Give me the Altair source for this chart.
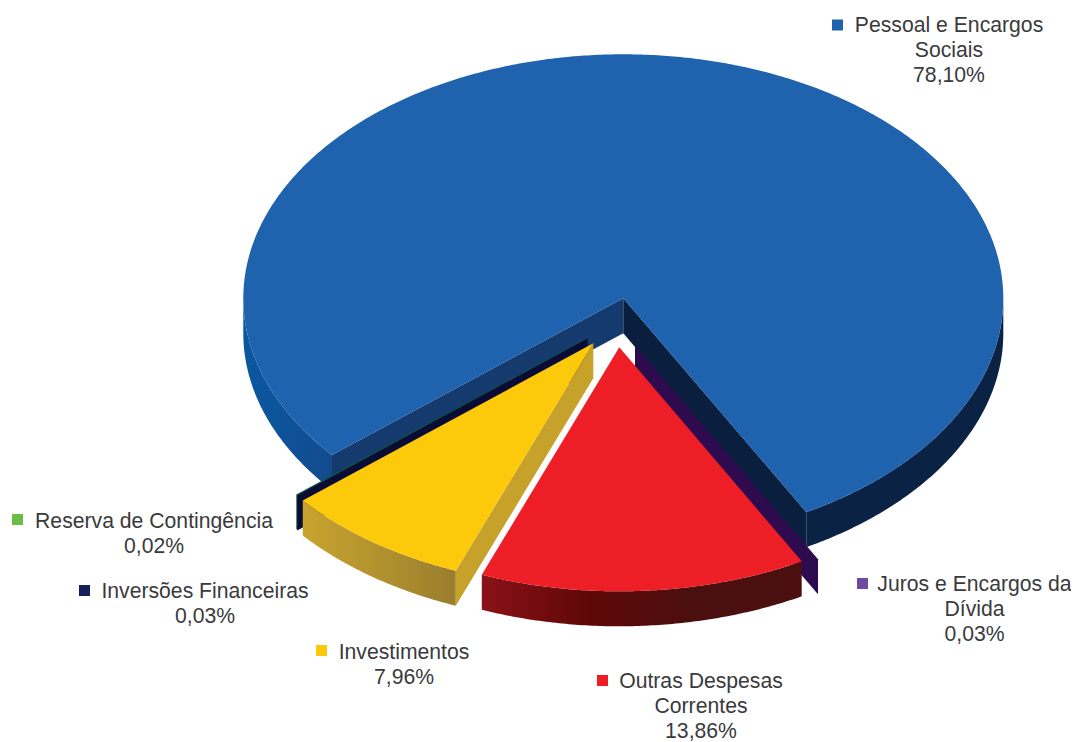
import math
import altair as alt
import pandas as pd

# ---- chart values ----
categories = ["Pessoal e Encargos Sociais", "Juros e Encargos da Dívida", "Outras Despesas Correntes",
              "Investimentos", "Inversões Financeiras", "Reserva de Contingência"]
shares = [78.10, 0.03, 13.86, 7.96, 0.03, 0.02]
share_labels = ["78,10%", "0,03%", "13,86%", "7,96%", "0,03%", "0,02%"]
label_lines = [["Pessoal e Encargos", "Sociais"], ["Juros e Encargos da", "Dívida"],
               ["Outras Despesas", "Correntes"], ["Investimentos"],
               ["Inversões Financeiras"], ["Reserva de Contingência"]]
legend_colors = ["#1f62ae", "#6f4aa0", "#ee1c25", "#fec80a", "#141f5c", "#6abd45"]

# ---- layout ----
START = 230.05            # clockwise from 12 o'clock
RX, RY, DEPTH = 380, 244, 35
apex = [(623.3, 298.3), (635.0, 345.5), (619.3, 347.3), (593.3, 343.3), (587.7, 338.3), (587.3, 337.7)]
label_xy = [(949, 32), (974.5, 591), (701, 688), (404, 659), (205, 598), (154, 528)]
marker_xy = [(837.5, 25), (862.5, 583.5), (602.5, 680.5), (321.5, 650.5), (84.5, 590.5), (17.5, 519.5)]
LINE = 24.8
W, H = 1063, 734

x_enc = alt.X("x:Q", axis=None, scale=alt.Scale(domain=[8, 8 + W]))
y_enc = alt.Y("y:Q", axis=None, scale=alt.Scale(domain=[8 + H, 8]))

angles = []
a = START
for s in shares:
    b = a + s * 3.6
    angles.append((a, b))
    a = b


def pt(i, deg, drop=0.0):
    r = math.radians(deg)
    cx, cy = apex[i]
    return (cx + RX * math.sin(r), cy - RY * math.cos(r) + drop)


def arc(i, a0, a1, drop=0.0):
    n = max(2, int(abs(a1 - a0) * 2))
    return [pt(i, a0 + (a1 - a0) * k / n, drop) for k in range(n + 1)]


def poly(points, fill):
    df = pd.DataFrame({"x": [p[0] for p in points], "y": [p[1] for p in points],
                       "i": list(range(len(points)))})
    return alt.Chart(df).mark_line(fill=fill, strokeWidth=0, clip=False).encode(
        x=x_enc, y=y_enc, order=alt.Order("i:Q"))


def grad(stops):
    n = len(stops) - 1
    return alt.Gradient(gradient="linear", x1=0, x2=1, y1=0, y2=0,
                        stops=[alt.GradientStop(offset=k / n, color=c) for k, c in enumerate(stops)])


def rim(i, a0, a1, fill):
    top = arc(i, a0, a1)
    bot = arc(i, a0, a1, DEPTH)
    return poly(top + bot[::-1], fill)


def cut(i, deg, fill):
    c = apex[i]
    e = pt(i, deg)
    return poly([c, e, (e[0], e[1] + DEPTH), (c[0], c[1] + DEPTH)], fill)


def top(i, a0, a1, fill):
    return poly([apex[i]] + arc(i, a0, a1), fill)


blue_a, blue_b = angles[0]
layers = [
    # blue slice
    rim(0, 230, 270, grad(["#0a589f", "#0e5299", "#134a8c"])),
    rim(0, 90 + 360, blue_b, grad(["#0a2244", "#0a2244"])),
    cut(0, blue_a, "#153a6e"),
    cut(0, blue_b, "#0a1f3d"),
    top(0, blue_a, blue_b, "#1f62ae"),
    # hairline slices
    cut(5, angles[5][0], "#0b5a3c"),
    cut(4, angles[4][0], "#0a0c35"),
    cut(1, angles[1][0], "#2e0a4e"),
    # yellow slice
    rim(3, angles[3][0], angles[3][1], grad(["#c8a32e", "#b2922e", "#9a7d2e"])),
    cut(3, angles[3][0], "#c6a22b"),
    top(3, angles[3][0], angles[3][1], "#fdca0b"),
    # red slice
    rim(2, angles[2][0], angles[2][1], grad(["#8a1218", "#5f0707", "#4a0f0e", "#4a0f0e"])),
    top(2, angles[2][0], angles[2][1], "#ee1e27"),
]

# legend markers
marker_df = pd.DataFrame({"x": [m[0] for m in marker_xy], "y": [m[1] for m in marker_xy],
                          "cat": categories})
layers.append(alt.Chart(marker_df).mark_square(size=121, opacity=1).encode(
    x=x_enc, y=y_enc,
    color=alt.Color("cat:N", legend=None,
                    scale=alt.Scale(domain=categories, range=legend_colors))))

# labels
rows = []
for k, lines in enumerate(label_lines):
    x, y = label_xy[k]
    for j, t in enumerate(lines + [share_labels[k]]):
        rows.append({"x": x, "y": y + j * LINE, "t": t})
layers.append(alt.Chart(pd.DataFrame(rows)).mark_text(
    font="Liberation Sans", fontSize=21.2, color="#3a3a3c", align="center", baseline="alphabetic"
).encode(x=x_enc, y=y_enc, text="t:N"))

chart = alt.layer(*layers).properties(
    width=W, height=H, padding=0, autosize=alt.AutoSizeParams(type="none")
).configure_view(stroke=None)

chart.save("out.html", embed_options={"renderer": "svg", "actions": False})
